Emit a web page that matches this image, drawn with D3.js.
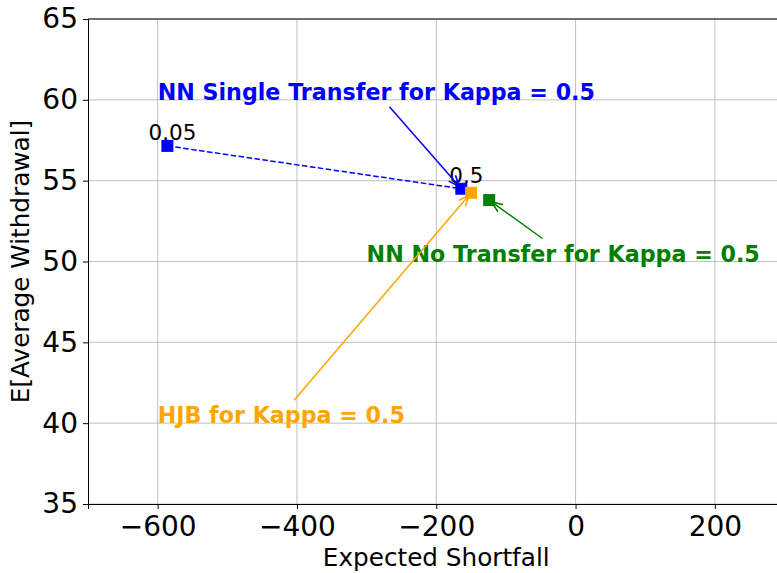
<!DOCTYPE html>
<html>
<head>
<meta charset="utf-8">
<script src="https://cdn.jsdelivr.net/npm/d3@7"></script>
<style>
body { margin: 0; background: #fff; }
text { font-family: "DejaVu Sans", sans-serif; }
.grid line { stroke: #b0b0b0; stroke-width: 0.8; }
</style>
</head>
<body>
<script>
// data
var kappaLabels = ["0.05", "0.5"];
var singleES = [-586, -164];
var singleEW = [57.15, 54.5];
var hjbPoint = [-150, 54.25];
var noTransferPoint = [-124, 53.8];

var xTicks = [-600, -400, -200, 0, 200];
var yTicks = [35, 40, 45, 50, 55, 60, 65];

// annotations: label, text position, target point, colour
var notes = [
    {label: "NN Single Transfer for Kappa = 0.5", pos: [-600, 60], target: [-164, 54.5], color: "blue"},
    {label: "NN No Transfer for Kappa = 0.5", pos: [-300, 50], target: [-124, 53.8], color: "green"},
    {label: "HJB for Kappa = 0.5", pos: [-600, 40], target: [-150, 54.25], color: "orange"}
];

var width = 777, height = 573;
var margin = {left: 88, top: 19};
var plotW = 696.5, plotH = 485;

var svg = d3.select("body").append("svg")
    .attr("width", width)
    .attr("height", height);

var x = d3.scaleLinear().domain([-700, 300]).range([0, plotW]);
var y = d3.scaleLinear().domain([35, 65]).range([plotH, 0]);

var g = svg.append("g").attr("transform", "translate(" + margin.left + "," + margin.top + ")");

svg.append("defs").append("clipPath").attr("id", "clip")
    .append("rect").attr("width", plotW).attr("height", plotH);

// grid
g.append("g").attr("class", "grid")
    .selectAll("line.v").data(xTicks).enter().append("line")
    .attr("x1", d => x(d)).attr("x2", d => x(d))
    .attr("y1", 0).attr("y2", plotH);
g.append("g").attr("class", "grid")
    .selectAll("line.h").data(yTicks).enter().append("line")
    .attr("x1", 0).attr("x2", plotW)
    .attr("y1", d => y(d)).attr("y2", d => y(d));

// axes
var xAxis = g.append("g").attr("transform", "translate(0," + plotH + ")")
    .call(d3.axisBottom(x).tickValues(xTicks).tickSize(5).tickPadding(5)
        .tickFormat(d => d3.format("d")(d).replace("-", "\u2212")));
var yAxis = g.append("g")
    .call(d3.axisLeft(y).tickValues(yTicks).tickSize(5).tickPadding(5));
[xAxis, yAxis].forEach(function(a) {
    a.selectAll("text").attr("font-size", 28).attr("fill", "#000").style("font-family", "DejaVu Sans");
    a.select(".domain").attr("stroke", "#000").attr("stroke-width", 1);
    a.selectAll(".tick line").attr("stroke", "#000");
});
xAxis.selectAll("text").attr("dy", "0.78em");
g.append("line").attr("x1", 0).attr("x2", plotW).attr("y1", 0).attr("y2", 0)
    .attr("stroke", "#000").attr("stroke-width", 1);

// labels
svg.append("text")
    .attr("x", margin.left + plotW / 2).attr("y", 566)
    .attr("text-anchor", "middle").attr("font-size", 24.7)
    .text("Expected Shortfall");
svg.append("text")
    .attr("transform", "translate(29," + (margin.top + plotH / 2) + ") rotate(-90)")
    .attr("text-anchor", "middle").attr("font-size", 24.7)
    .text("E[Average Withdrawal]");

var plot = g.append("g").attr("clip-path", "url(#clip)");

// arrow marker heads
notes.forEach(function(n, i) {
    svg.select("defs").append("marker")
        .attr("id", "head" + i)
        .attr("viewBox", "0 0 10 10")
        .attr("refX", 10).attr("refY", 5)
        .attr("markerWidth", 11).attr("markerHeight", 11)
        .attr("markerUnits", "userSpaceOnUse")
        .attr("orient", "auto")
        .append("path")
        .attr("d", "M0,1 L10,5 L0,9")
        .attr("fill", "none").attr("stroke", n.color).attr("stroke-width", 1.5);
});

// dashed single-transfer line
var pts = singleES.map((d, i) => [d, singleEW[i]]);
plot.append("path")
    .datum(pts)
    .attr("d", d3.line().x(d => x(d[0])).y(d => y(d[1])))
    .attr("fill", "none").attr("stroke", "blue").attr("stroke-width", 1.5)
    .attr("stroke-dasharray", "5.5,2.5");

var ms = 12;
plot.selectAll("rect.single").data(pts).enter().append("rect")
    .attr("x", d => x(d[0]) - ms / 2).attr("y", d => y(d[1]) - ms / 2)
    .attr("width", ms).attr("height", ms).attr("fill", "blue");
plot.append("rect")
    .attr("x", x(hjbPoint[0]) - ms / 2).attr("y", y(hjbPoint[1]) - ms / 2)
    .attr("width", ms).attr("height", ms).attr("fill", "orange");
plot.append("rect")
    .attr("x", x(noTransferPoint[0]) - ms / 2).attr("y", y(noTransferPoint[1]) - ms / 2)
    .attr("width", ms).attr("height", ms).attr("fill", "green");

// kappa labels
plot.selectAll("text.kappa").data(pts).enter().append("text")
    .attr("x", d => x(d[0]) + 5).attr("y", d => y(d[1]) - 6)
    .attr("text-anchor", "middle").attr("font-size", 21.5)
    .text((d, i) => kappaLabels[i]);

// annotations
notes.forEach(function(n, i) {
    var t = g.append("text")
        .attr("x", x(n.pos[0])).attr("y", y(n.pos[1]))
        .attr("font-size", 22.2).attr("font-weight", "bold")
        .attr("fill", n.color)
        .text(n.label);
    var b = t.node().getBBox();
    var cx = b.x + b.width / 2, cy = b.y + b.height / 2;
    var tx = x(n.target[0]), ty = y(n.target[1]);
    var dx = tx - cx, dy = ty - cy;
    // leave the text box along the line to the target
    var hw = b.width / 2 + 2, hh = b.height / 2 + 2;
    var s = Math.min(Math.abs(hw / dx), Math.abs(hh / dy));
    var sx = cx + dx * s, sy = cy + dy * s;
    var len = Math.sqrt(dx * dx + dy * dy);
    var ex = tx - dx / len * 3, ey = ty - dy / len * 3;
    g.append("line")
        .attr("x1", sx).attr("y1", sy).attr("x2", ex).attr("y2", ey)
        .attr("stroke", n.color).attr("stroke-width", 1.5)
        .attr("marker-end", "url(#head" + i + ")");
});
</script>
</body>
</html>
